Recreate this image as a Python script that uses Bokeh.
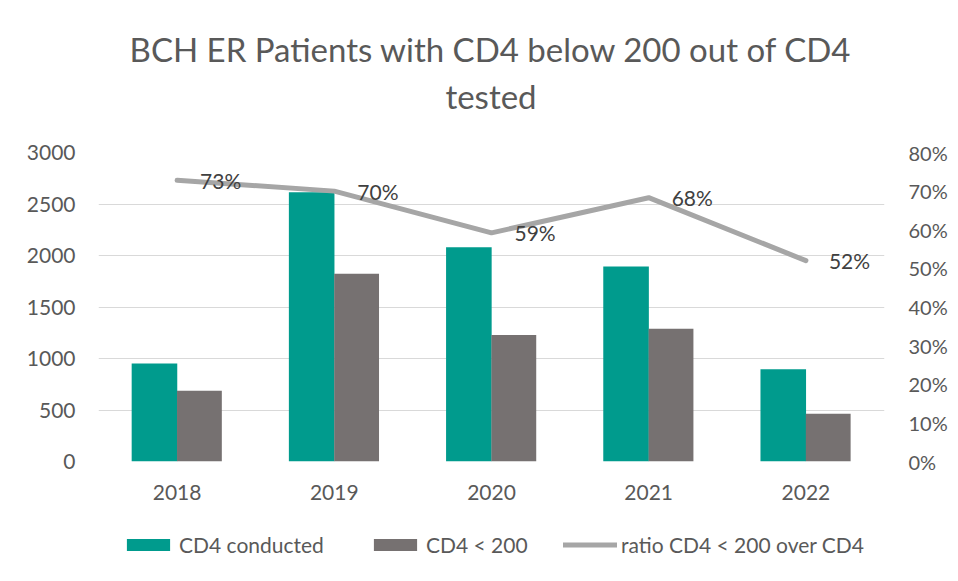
from bokeh.plotting import figure
from bokeh.layouts import column
from bokeh.core.properties import value
from bokeh.models import (FactorRange, Range1d, LinearAxis, SingleIntervalTicker,
                          NumeralTickFormatter, ColumnDataSource, LabelSet, Label,
                          Legend, LegendItem)
from bokeh.transform import dodge
from bokeh.embed import file_html
from bokeh.resources import INLINE

# ---- data ----
years = ["2018", "2019", "2020", "2021", "2022"]
cd4_conducted = [951, 2614, 2081, 1893, 896]
cd4_below_200 = [686, 1822, 1227, 1288, 463]
ratio = [0.728, 0.700, 0.592, 0.683, 0.520]
ratio_labels = ["73%", "70%", "59%", "68%", "52%"]
title_lines = ["BCH ER Patients with CD4 below 200 out of CD4", "tested"]
series_names = ["CD4 conducted", "CD4 < 200", "ratio CD4 < 200 over CD4"]

TEAL = "#009B8D"
GRAY = "#767171"
LINE = "#A6A6A6"
TXT = "#595959"
FONT = "Lato"
W = 950

src = ColumnDataSource(dict(year=years, a=cd4_conducted, b=cd4_below_200,
                            r=ratio, lab=ratio_labels))


def style_axis(ax, size, standoff):
    ax.axis_line_color = None
    ax.major_tick_line_color = None
    ax.minor_tick_line_color = None
    ax.major_tick_out = 0
    ax.major_tick_in = 0
    ax.major_label_text_font = FONT
    ax.major_label_text_font_size = size
    ax.major_label_text_color = TXT
    ax.major_label_standoff = standoff


def draw_series(fig, sample=False):
    # sample=True: legend-key renderers only (zero-height bars, line out of view)
    a = fig.vbar(x=dodge("year", -0.144, range=fig.x_range), top="a",
                 bottom="a" if sample else 0, width=0.29,
                 source=src, fill_color=TEAL, line_color=None)
    b = fig.vbar(x=dodge("year", 0.142, range=fig.x_range), top="b",
                 bottom="b" if sample else 0, width=0.285,
                 source=src, fill_color=GRAY, line_color=None)
    c = fig.line(x="year", y="r", source=src, y_range_name="pct", line_color=LINE,
                 line_width=5, line_cap="round", line_join="round")
    return a, b, c


def strip(height):
    f = figure(width=W, height=height, x_range=FactorRange(*years, range_padding=0),
               y_range=Range1d(5000, 6000), output_backend="svg",
               toolbar_location=None, title=None, x_axis_type=None,
               y_axis_type=None, min_border_left=0, min_border_right=0,
               min_border_top=0, min_border_bottom=0)
    f.outline_line_color = None
    f.grid.visible = False
    f.background_fill_color = "white"
    f.border_fill_color = "white"
    f.extra_y_ranges = {"pct": Range1d(50, 60)}
    return f


# ---------------- title strip ----------------
t = strip(120)
for txt, yy in zip(title_lines, [72, 25]):
    t.add_layout(Label(x=392.5, y=yy, x_units="screen", y_units="screen", text=txt,
                       text_align="center", text_baseline="alphabetic",
                       text_font=FONT, text_font_size="33px", text_color=TXT))

# ---------------- main chart ----------------
p = figure(width=W, height=396, x_range=FactorRange(*years, range_padding=0),
           y_range=Range1d(0, 3000), output_backend="svg", toolbar_location=None,
           title=None,
           min_border_left=98, min_border_right=62, min_border_top=32,
           min_border_bottom=55)
p.outline_line_color = None
p.background_fill_color = "white"
p.border_fill_color = "white"
p.extra_y_ranges = {"pct": Range1d(0, 0.8)}

p.xgrid.grid_line_color = None
p.ygrid.grid_line_color = "#D9D9D9"
p.ygrid.grid_line_width = 1

p.yaxis.ticker = SingleIntervalTicker(interval=500)
style_axis(p.xaxis[0], "21px", 23)
style_axis(p.yaxis[0], "21px", 19)

rax = LinearAxis(y_range_name="pct", ticker=SingleIntervalTicker(interval=0.1),
                 formatter=NumeralTickFormatter(format="0%"))
style_axis(rax, "20px", 20)
p.add_layout(rax, "right")

draw_series(p)

labels = LabelSet(x="year", y="r", text="lab", source=src, y_range_name="pct",
                  x_offset=23, text_baseline="middle", text_align="left",
                  text_font=value(FONT), text_font_size=value("21px"),
                  text_color="#404040")
p.add_layout(labels)

# ---------------- legend strip ----------------
q = strip(57)
legend_renderers = draw_series(q, sample=True)

for rend, name, xloc in zip(legend_renderers, series_names, [23, 270, 465]):
    lg = Legend(items=[LegendItem(label=name, renderers=[rend])],
                location=(xloc, 16), orientation="horizontal",
                border_line_color=None, background_fill_alpha=0,
                padding=0, margin=0, spacing=0, glyph_width=54, glyph_height=15,
                label_standoff=4, label_height=15,
                label_text_font=FONT, label_text_font_size="21px",
                label_text_color=TXT)
    q.add_layout(lg, "center")

layout = column(t, p, q, spacing=0)
open("out.html", "w").write(file_html(layout, INLINE))
